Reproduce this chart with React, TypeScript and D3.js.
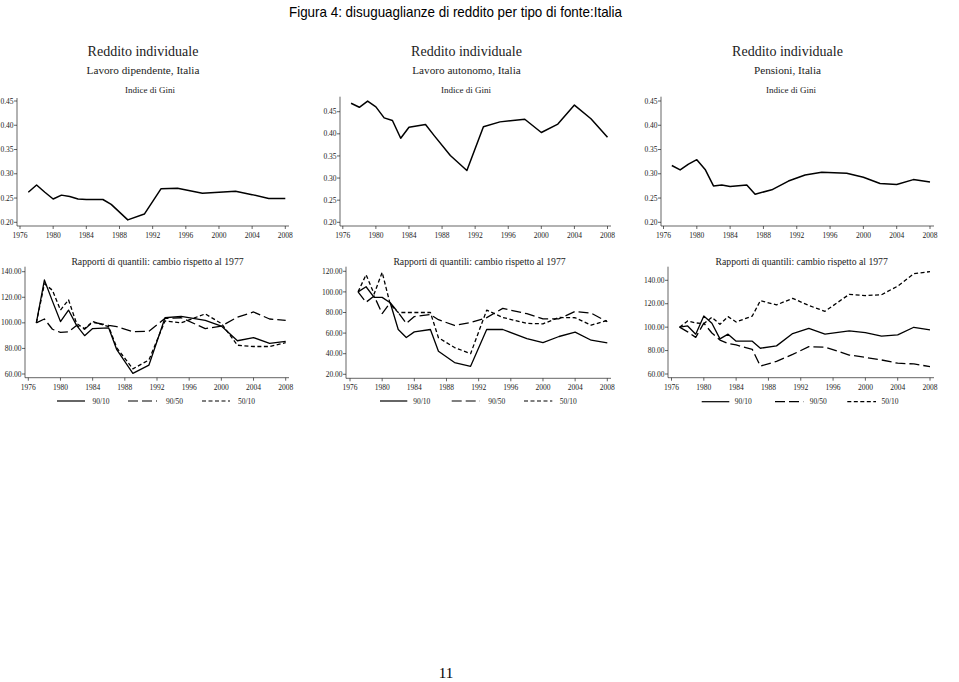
import React from "react";
import * as d3 from "d3";

// ---------- DATA ----------
const years = [1977, 1978, 1979, 1980, 1981, 1982, 1983, 1984, 1986, 1987, 1989, 1991, 1993, 1995, 1998, 2000, 2002, 2004, 2006, 2008];
const xTicks = [1976, 1980, 1984, 1988, 1992, 1996, 2000, 2004, 2008];

const giniDipendente = [0.262, 0.277, 0.262, 0.248, 0.256, 0.253, 0.248, 0.247, 0.247, 0.237, 0.205, 0.217, 0.269, 0.270, 0.260, 0.262, 0.264, 0.257, 0.249, 0.249];
const giniAutonomo = [0.469, 0.460, 0.474, 0.461, 0.436, 0.430, 0.390, 0.415, 0.421, 0.397, 0.351, 0.317, 0.416, 0.427, 0.433, 0.403, 0.422, 0.465, 0.434, 0.392];
const giniPensioni = [0.317, 0.308, 0.320, 0.329, 0.309, 0.275, 0.277, 0.274, 0.277, 0.258, 0.267, 0.285, 0.2975, 0.303, 0.301, 0.293, 0.280, 0.278, 0.288, 0.283];
const giniTicks = [0.2, 0.25, 0.3, 0.35, 0.4, 0.45];

const r9010Dip = [100, 133.5, 117, 101, 110, 98, 90, 95.5, 96, 79, 60.5, 67, 104, 105, 102, 97.5, 86, 88.5, 84, 85.5];
const r9050Dip = [100, 103, 95, 92.5, 93, 98, 95, 100.5, 98, 97, 93, 93.5, 103.5, 104, 95.5, 97.5, 104.5, 108.5, 103, 102];
const r5010Dip = [100, 130.5, 125.5, 110, 118, 99.5, 95.5, 101, 97, 80.5, 64, 71, 101.5, 100, 107, 99.5, 82.5, 81.5, 81.5, 84.5];

const r9010Aut = [100, 105, 94.7, 94.7, 89.5, 63.5, 55.7, 61.2, 63.5, 42.4, 31.4, 27.8, 63.5, 63.5, 54.7, 50.8, 56.7, 60.9, 53.1, 50.5];
const r9050Aut = [100, 90, 96, 79, 89.5, 80, 69.4, 76, 78, 73, 67.4, 70.3, 75, 84, 78.8, 73.9, 73.9, 81, 79.4, 71];
const r5010Aut = [100, 116.7, 98, 119, 88, 80, 80, 80, 80, 55.5, 46, 40, 82.3, 75.2, 69.4, 69, 75.2, 74.9, 67.7, 72.3];

const r9010Pen = [100, 101, 94, 109.5, 103.3, 90, 94, 88, 88, 82, 84, 94.5, 98.9, 94, 96.9, 95.4, 92.3, 93.4, 99.9, 97.6];
const r9050Pen = [100, 96, 91.3, 103.4, 95, 89, 86, 84.8, 81, 66.8, 70.8, 76.7, 83.3, 83, 76.2, 74.2, 72, 69.2, 68.6, 66.3];
const r5010Pen = [100, 105.3, 103.6, 103, 108.4, 102.4, 109, 104.4, 109.5, 122.6, 119, 124.6, 118.5, 113.5, 128, 127, 127.7, 135, 145.7, 147.4];

const ratioTicksDip = [60, 80, 100, 120, 140];
const ratioTicksAut = [20, 40, 60, 80, 100, 120];
const ratioTicksPen = [60, 80, 100, 120, 140];

const seriesNames = ["90/10", "90/50", "50/10"];
const mainTitle = "Figura 4: disuguaglianze di reddito per tipo di fonte:Italia";
const panelTitle = "Reddito individuale";
const panelSubtitles = ["Lavoro dipendente, Italia", "Lavoro autonomo, Italia", "Pensioni, Italia"];
const giniTitle = "Indice di Gini";
const ratioTitle = "Rapporti di quantili: cambio rispetto al 1977";
const pageNumber = "11";

// ---------- STYLE ----------
const SERIF = "'Liberation Serif', 'DejaVu Serif', serif";
const SANS = "'Liberation Sans', Arial, sans-serif";
const dashes = ["", "10,4", "4,2.5"];

type PanelProps = {
  x0: number; x1: number; yAxisX: number; axisTop: number; xAxisY: number; xAxisEnd: number;
  yDomain: [number, number]; yRange: [number, number]; yTicks: number[]; fmt: (v: number) => string;
  series: number[][]; strokeWidth: number;
};

function Panel(p: PanelProps) {
  const x = d3.scaleLinear().domain([1976, 2008]).range([p.x0, p.x1]);
  const y = d3.scaleLinear().domain(p.yDomain).range(p.yRange);
  const line = d3.line<number>().x((_, i) => x(years[i])).y((d) => y(d));
  return (
    <g>
      <line x1={p.yAxisX} x2={p.yAxisX} y1={p.axisTop} y2={p.xAxisY} stroke="#222" strokeWidth={0.7} />
      <line x1={p.yAxisX} x2={p.xAxisEnd} y1={p.xAxisY} y2={p.xAxisY} stroke="#222" strokeWidth={0.7} />
      {p.yTicks.map((t) => (
        <g key={"y" + t}>
          <line x1={p.yAxisX - 3} x2={p.yAxisX} y1={y(t)} y2={y(t)} stroke="#222" strokeWidth={0.7} />
          <text x={p.yAxisX - 3.5} y={y(t) + 2.6} textAnchor="end" fontSize={7.5} fontFamily={SERIF} fill="#222">
            {p.fmt(t)}
          </text>
        </g>
      ))}
      {xTicks.map((t) => (
        <g key={"x" + t}>
          <line x1={x(t)} x2={x(t)} y1={p.xAxisY} y2={p.xAxisY + 3} stroke="#222" strokeWidth={0.7} />
          <text x={x(t)} y={p.xAxisY + 12} textAnchor="middle" fontSize={7.5} fontFamily={SERIF} fill="#222">
            {t}
          </text>
        </g>
      ))}
      {p.series.map((s, i) => (
        <path key={i} d={line(s) || ""} fill="none" stroke="#000" strokeWidth={p.strokeWidth}
          strokeDasharray={dashes[i]} strokeLinejoin="round" />
      ))}
    </g>
  );
}

function Legend({ y, items }: { y: number; items: { x1: number; x2: number; lx: number }[] }) {
  return (
    <g>
      {items.map((it, i) => (
        <g key={i}>
          <line x1={it.x1} x2={it.x2} y1={y} y2={y} stroke="#000" strokeWidth={1.2} strokeDasharray={dashes[i]} />
          <text x={it.lx} y={y + 2.6} textAnchor="middle" fontSize={7.5} fontFamily={SERIF} fill="#222">
            {seriesNames[i]}
          </text>
        </g>
      ))}
    </g>
  );
}

export default function App() {
  const f2 = d3.format(".2f");
  const titleCenters = [143, 466.5, 787.5];
  const giniCenters = [150, 466, 791];
  const ratioCenters = [157.5, 479.5, 801.7];
  return (
    <svg width={959} height={682} style={{ position: "absolute", left: 0, top: 0, background: "#fff" }}>
      <rect x={0} y={0} width={959} height={682} fill="#fff" />
      <text x={455.5} y={17} textAnchor="middle" fontSize={14.5} fontFamily={SANS} fill="#000"
        textLength={333} lengthAdjust="spacingAndGlyphs">
        {mainTitle}
      </text>
      {panelSubtitles.map((s, i) => (
        <g key={i}>
          <text x={titleCenters[i]} y={56} textAnchor="middle" fontSize={14} fontFamily={SERIF} fill="#222">{panelTitle}</text>
          <text x={titleCenters[i]} y={74} textAnchor="middle" fontSize={11.2} fontFamily={SERIF} fill="#222">{s}</text>
          <text x={giniCenters[i]} y={93} textAnchor="middle" fontSize={9} fontFamily={SERIF} fill="#222">{giniTitle}</text>
          <text x={ratioCenters[i]} y={264.5} textAnchor="middle" fontSize={9.7} fontFamily={SERIF} fill="#222">{ratioTitle}</text>
        </g>
      ))}

      <Panel x0={20} x1={285.3} yAxisX={17} axisTop={98} xAxisY={226} xAxisEnd={289}
        yDomain={[0.2, 0.45]} yRange={[222.3, 101]} yTicks={giniTicks} fmt={f2}
        series={[giniDipendente]} strokeWidth={1.5} />
      <Panel x0={342.8} x1={607.5} yAxisX={340} axisTop={96.7} xAxisY={226} xAxisEnd={611}
        yDomain={[0.2, 0.45]} yRange={[222.3, 111.7]} yTicks={giniTicks} fmt={f2}
        series={[giniAutonomo]} strokeWidth={1.5} />
      <Panel x0={663.5} x1={930} yAxisX={661} axisTop={96.7} xAxisY={226} xAxisEnd={934}
        yDomain={[0.2, 0.45]} yRange={[222.3, 101]} yTicks={giniTicks} fmt={f2}
        series={[giniPensioni]} strokeWidth={1.5} />

      <Panel x0={28.3} x1={285.7} yAxisX={25} axisTop={266.7} xAxisY={377.7} xAxisEnd={289}
        yDomain={[60, 140]} yRange={[374, 271.7]} yTicks={ratioTicksDip} fmt={f2}
        series={[r9010Dip, r9050Dip, r5010Dip]} strokeWidth={1.3} />
      <Panel x0={350} x1={607.3} yAxisX={346} axisTop={266.7} xAxisY={378.3} xAxisEnd={611}
        yDomain={[20, 120]} yRange={[374.3, 271.3]} yTicks={ratioTicksAut} fmt={f2}
        series={[r9010Aut, r9050Aut, r5010Aut]} strokeWidth={1.3} />
      <Panel x0={671.5} x1={930} yAxisX={668} axisTop={266.7} xAxisY={377.7} xAxisEnd={934}
        yDomain={[60, 140]} yRange={[374, 280.3]} yTicks={ratioTicksPen} fmt={f2}
        series={[r9010Pen, r9050Pen, r5010Pen]} strokeWidth={1.3} />

      <Legend y={401} items={[{ x1: 57, x2: 85, lx: 101 }, { x1: 128, x2: 157, lx: 174.5 }, { x1: 202, x2: 230, lx: 246.5 }]} />
      <Legend y={401} items={[{ x1: 380, x2: 407.3, lx: 421.7 }, { x1: 451.7, x2: 480, lx: 496.7 }, { x1: 524, x2: 552.3, lx: 568.3 }]} />
      <Legend y={401.7} items={[{ x1: 701.7, x2: 729.3, lx: 743.3 }, { x1: 775, x2: 803.3, lx: 818.3 }, { x1: 847.3, x2: 876, lx: 890 }]} />

      <text x={446} y={678} textAnchor="middle" fontSize={15} fontFamily={SERIF} fill="#000">{pageNumber}</text>
    </svg>
  );
}
